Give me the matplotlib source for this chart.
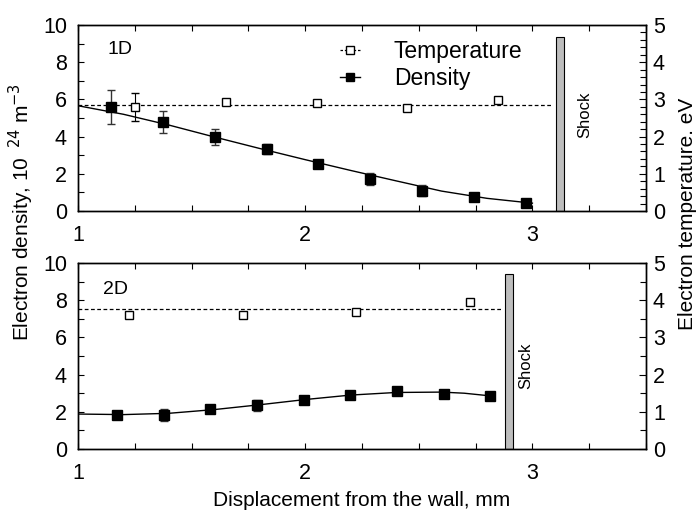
import matplotlib
matplotlib.use("Agg")
import matplotlib.pyplot as plt
from matplotlib.ticker import MultipleLocator
from matplotlib.lines import Line2D
from matplotlib.legend_handler import HandlerLine2D

plt.rcParams['font.family'] = ['Liberation Sans', 'DejaVu Sans']

# ---- 1D panel data ----
dens1_x = [1.145, 1.374, 1.602, 1.83, 2.057, 2.286, 2.515, 2.744, 2.972]
dens1_y = [5.6, 4.79, 3.99, 3.34, 2.5, 1.72, 1.08, 0.75, 0.43]
dens1_err = [0.9, 0.6, 0.43, 0.25, 0.12, 0.3, 0.3, 0.1, 0.1]
temp1_x = [1.253, 1.65, 2.05, 2.45, 2.85]
temp1_y = [2.8, 2.94, 2.91, 2.78, 2.98]
temp1_err = [0.38, 0.05, 0.07, 0.04, 0.07]
temp1_mean = 2.86
temp1_line_end = 3.09
fit1_x = [1.0, 1.2, 1.4, 1.6, 1.8, 2.0, 2.2, 2.4, 2.6, 2.8, 3.0]
fit1_y = [5.66, 5.2, 4.62, 3.98, 3.36, 2.76, 2.18, 1.62, 1.07, 0.68, 0.42]
shock1_x = 3.12
shock1_top = 9.37

# ---- 2D panel data ----
dens2_x = [1.172, 1.379, 1.581, 1.788, 1.994, 2.198, 2.405, 2.612, 2.815]
dens2_y = [1.83, 1.81, 2.15, 2.35, 2.66, 2.93, 3.12, 2.96, 2.87]
dens2_err = [0.1, 0.33, 0.1, 0.3, 0.1, 0.1, 0.1, 0.2, 0.1]
temp2_x = [1.226, 1.727, 2.225, 2.727]
temp2_y = [3.6, 3.6, 3.69, 3.95]
temp2_err = [0.07, 0.07, 0.05, 0.07]
temp2_mean = 3.76
temp2_line_end = 2.86
fit2_x = [1.0, 1.2, 1.4, 1.6, 1.8, 2.0, 2.2, 2.4, 2.6, 2.7, 2.82]
fit2_y = [1.88, 1.85, 1.92, 2.12, 2.38, 2.66, 2.9, 3.04, 3.06, 3.0, 2.85]
shock2_x = 2.898
shock2_top = 9.43

fig = plt.figure(figsize=(6.99, 5.18), dpi=100)
ax1 = fig.add_axes([0.1116, 0.5927, 0.8126, 0.359])
ax2 = fig.add_axes([0.1116, 0.1332, 0.8126, 0.359])


def panel(ax, dx, dy, de, tx, ty, te, tmean, tend, fx, fy, sx, stop, label, minor_r, tag_xy, shock_txt_xy):
    ax.set_xlim(1, 3.5)
    ax.set_ylim(0, 10)
    axr = ax.twinx()
    axr.set_ylim(0, 5)
    # shock bar
    ax.bar([sx], [stop], width=0.034, bottom=0, color='#bdbdbd', edgecolor='black', linewidth=0.8, zorder=2)
    ax.text(shock_txt_xy[0], shock_txt_xy[1], 'Shock', rotation=90, ha='center', va='center', fontsize=12)
    # fit line
    ax.plot(fx, fy, '-', color='black', lw=1.0, zorder=3)
    ax.errorbar(dx, dy, yerr=de, fmt='s', color='black', ms=6.8, capsize=3, elinewidth=1.0,
                ecolor='#333333', capthick=1.0, zorder=4)
    # temperature
    axr.plot([1.0, tend], [tmean, tmean], '--', color='black', lw=0.9, dashes=(3, 2))
    axr.errorbar(tx, ty, yerr=te, fmt='s', mfc='white', mec='black', color='black', ms=6,
                 capsize=3, elinewidth=0.8, capthick=0.8, mew=1.0, zorder=4)
    ax.text(tag_xy[0], tag_xy[1], label, fontsize=14, ha='left', va='center')

    ax.xaxis.set_major_locator(MultipleLocator(1))
    ax.xaxis.set_minor_locator(MultipleLocator(0.25))
    ax.yaxis.set_major_locator(MultipleLocator(2))
    ax.yaxis.set_minor_locator(MultipleLocator(1))
    axr.yaxis.set_major_locator(MultipleLocator(1))
    axr.yaxis.set_minor_locator(MultipleLocator(minor_r))
    ax.tick_params(which='both', direction='in', top=True, labelsize=15.5, width=0.8, length=4.5)
    ax.tick_params(axis='x', pad=10)
    ax.tick_params(axis='y', pad=8)
    axr.tick_params(which='both', direction='in', labelsize=15.5, width=0.8, pad=5)
    axr.tick_params(which='major', length=5)
    axr.tick_params(which='minor', length=4)
    for a in (ax, axr):
        for s in a.spines.values():
            s.set_linewidth(1.0)
    return axr

r1 = panel(ax1, dens1_x, dens1_y, dens1_err, temp1_x, temp1_y, temp1_err, temp1_mean, temp1_line_end,
           fit1_x, fit1_y, shock1_x, shock1_top, '1D', 0.2, (1.13, 8.7), (3.23, 5.15))
r2 = panel(ax2, dens2_x, dens2_y, dens2_err, temp2_x, temp2_y, temp2_err, temp2_mean, temp2_line_end,
           fit2_x, fit2_y, shock2_x, shock2_top, '2D', 0.5, (1.11, 8.6), (2.97, 4.5))


class EndMarkerHandler(HandlerLine2D):
    def get_xdata(self, legend, xdescent, ydescent, width, height, fontsize):
        end = -xdescent + width - 3
        return [-xdescent, end], [end]


# legend
h_t = Line2D([], [], color='black', ls='--', lw=0.9, dashes=(2, 1.5), marker='s', mfc='white', mec='black', ms=5.5)
h_d = Line2D([], [], color='black', ls='-', lw=1.0, marker='s', mfc='black', mec='black', ms=6)
leg = ax1.legend([h_t, h_d], ['Temperature', 'Density'], loc='upper left', bbox_to_anchor=(0.425, 1.032),
                 frameon=False, fontsize=16.5, handlelength=1.05, handletextpad=1.3, labelspacing=0.18,
                 handler_map={h_t: EndMarkerHandler(), h_d: EndMarkerHandler()})

fig.text(0.031, 0.59, 'Electron density, 10$^{\\ \\ 24}$ m$^{-3}$', rotation=90, ha='center', va='center', fontsize=15)
fig.text(0.984, 0.587, 'Electron temperature. eV', rotation=90, ha='center', va='center', fontsize=15)
fig.text(0.517, 0.034, 'Displacement from the wall, mm', ha='center', va='center', fontsize=15)

fig.savefig('out.png', dpi=100)
